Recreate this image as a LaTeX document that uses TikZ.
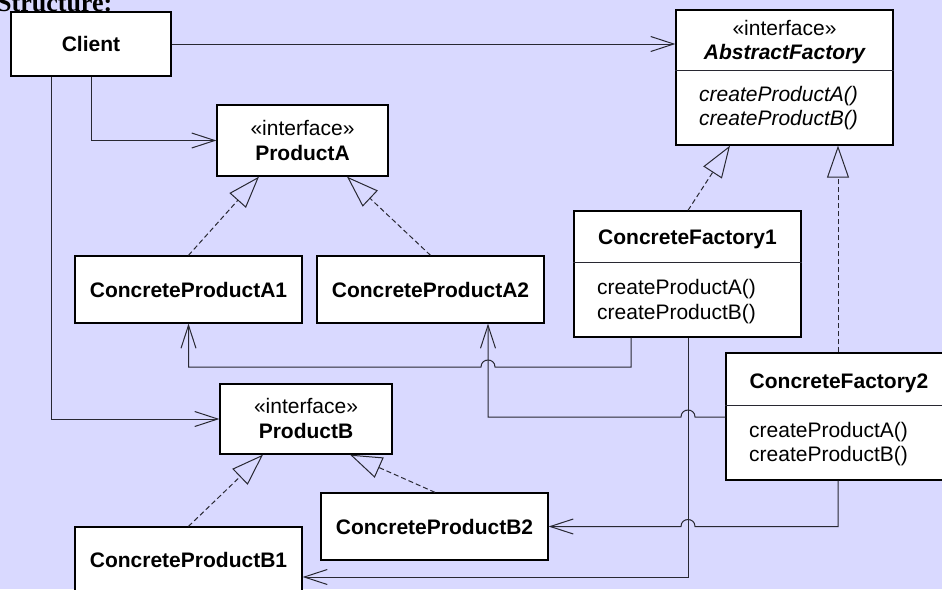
\documentclass[tikz,border=0pt]{standalone}
\usepackage{fontspec}
\setmainfont{Liberation Sans}
\newfontfamily\headfont{Liberation Serif}
\usetikzlibrary{arrows.meta}
\definecolor{bgpaper}{RGB}{217,217,255}
\definecolor{inkline}{RGB}{40,40,50}
\tikzset{
  classbox/.style={draw=black, fill=white, line width=1.3pt, inner sep=0pt},
  classname/.style={font=\fontsize{21}{24}\selectfont\bfseries, inner sep=0pt},
  plaintext/.style={font=\fontsize{21}{24}\selectfont, inner sep=0pt},
  assoc/.style={draw=inkline, line width=1pt,
    -{Straight Barb[length=23pt,width=15pt,line width=1pt]}},
  realize/.style={draw=inkline, line width=1pt, dash pattern=on 5pt off 3pt,
    -{Triangle[open,length=32pt,width=22pt,line width=1pt,sep=0pt]}},
  divider/.style={draw=inkline, line width=1pt}
}
\begin{document}
\begin{tikzpicture}[x=1pt,y=-1pt]
\useasboundingbox (0,0) rectangle (942,589);
\clip (0,0) rectangle (942,589);
\fill[bgpaper] (0,0) rectangle (942,589);

% heading, partly above the top edge
\node[anchor=base west, inner sep=0pt, font=\headfont\fontsize{26}{29}\selectfont\bfseries] (heading) at (-3,11) {Structure:};

% class boxes
\node[classbox, minimum width=160pt, minimum height=64pt, classname] (client) at (91,44) {Client};
\node[classbox, minimum width=217pt, minimum height=135pt] (af) at (784.5,77.5) {};
\node[classbox, minimum width=171pt, minimum height=71pt] (pa) at (302.5,140.5) {};
\node[classbox, minimum width=172pt, minimum height=70pt] (pb) at (306,419) {};
\node[classbox, minimum width=227pt, minimum height=67pt, classname] (cpa1) at (188.5,289.5) {ConcreteProductA1};
\node[classbox, minimum width=227pt, minimum height=67pt, classname] (cpa2) at (430.5,289.5) {ConcreteProductA2};
\node[classbox, minimum width=227pt, minimum height=126pt] (cf1) at (687.5,274) {};
\node[classbox, minimum width=226pt, minimum height=127pt] (cf2) at (839,416.5) {};
\node[classbox, minimum width=227pt, minimum height=67pt] (cpb1) at (188.5,560.5) {};
\node[classbox, minimum width=227pt, minimum height=67pt, classname] (cpb2) at (434.5,526.5) {ConcreteProductB2};

% AbstractFactory
\node[plaintext, anchor=base] (afstereo) at (784.5,35) {«interface»};
\node[classname, anchor=base, font=\fontsize{21}{24}\selectfont\bfseries\itshape] (aftitle) at (784.5,59) {AbstractFactory};
\draw[divider] (af.west |- 0,70) -- (af.east |- 0,70);
\node[plaintext, anchor=base west, font=\fontsize{21}{24}\selectfont\itshape] (afopa) at (699,101) {createProductA()};
\node[plaintext, anchor=base west, font=\fontsize{21}{24}\selectfont\itshape] (afopb) at (699,125) {createProductB()};

% ProductA / ProductB
\node[plaintext, anchor=base] (pastereo) at (302.5,135) {«interface»};
\node[classname, anchor=base] (patitle) at (302.5,160) {ProductA};
\node[plaintext, anchor=base] (pbstereo) at (306,413) {«interface»};
\node[classname, anchor=base] (pbtitle) at (306,438) {ProductB};

% ConcreteFactory1
\node[classname, anchor=base] (cf1title) at (687.5,244) {ConcreteFactory1};
\draw[divider] (cf1.west |- 0,262) -- (cf1.east |- 0,262);
\node[plaintext, anchor=base west] (cf1opa) at (597,294.5) {createProductA()};
\node[plaintext, anchor=base west] (cf1opb) at (597,319) {createProductB()};

% ConcreteFactory2
\node[classname, anchor=base] (cf2title) at (839,388) {ConcreteFactory2};
\draw[divider] (cf2.west |- 0,405) -- (cf2.east |- 0,405);
\node[plaintext, anchor=base west] (cf2opa) at (749,437) {createProductA()};
\node[plaintext, anchor=base west] (cf2opb) at (749,461.5) {createProductB()};

% ConcreteProductB1 (runs past the lower edge)
\node[classname, anchor=base] (cpb1title) at (188.5,567) {ConcreteProductB1};

% client associations
\draw[assoc] (client.east) -- (af.west |- client.east);
\draw[assoc] (client.south) |- (pa.west);
\draw[assoc] (51,0 |- client.south) |- (pb.west);

% realizations
\draw[realize] (cpa1.north) -- (259,0 |- pa.south);
\draw[realize] (cpa2.north) -- (347,0 |- pa.south);
\draw[realize] (cpb1.north) -- (263,0 |- pb.south);
\draw[realize] (435,0 |- cpb2.north) -- (350,0 |- pb.south);
\draw[realize] (688,0 |- cf1.north) -- (730,0 |- af.south);
\draw[realize] (838,0 |- cf2.north) -- (838,0 |- af.south);

% factory products, with hops over crossing lines
\draw[assoc] (631,0 |- cf1.south) -- (631,367) -- (495,367)
  .. controls (495,357.7) and (481,357.7) .. (481,367)
  -- (cpa1.south |- 0,367) -- (cpa1.south);
\draw[assoc] (cf2.west |- 0,417) -- (695,417)
  .. controls (695,407.7) and (681,407.7) .. (681,417)
  -- (488,417) -- (488,0 |- cpa2.south);
\draw[assoc] (688,0 |- cf1.south) |- (cpb1.east |- 0,577);
\draw[assoc] (838,0 |- cf2.south) -- (838,526.5) -- (695,526.5)
  .. controls (695,517.2) and (681,517.2) .. (681,526.5)
  -- (cpb2.east);
\end{tikzpicture}
\end{document}
